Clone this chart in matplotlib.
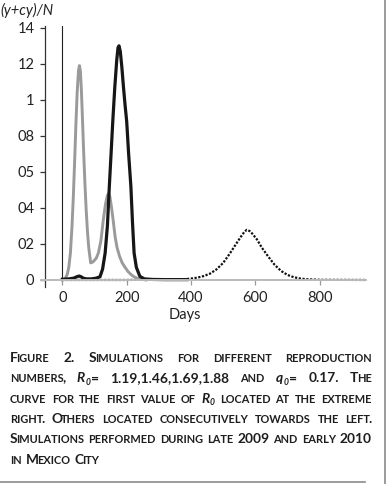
import matplotlib
matplotlib.use('Agg')
import matplotlib.pyplot as plt
from matplotlib.lines import Line2D

# values: days vs (y+cy)/N
gray_days = [0, 8, 15, 20, 25, 30, 34, 38, 42, 46, 50, 53, 56, 59, 62, 66, 70,
             74, 78, 82, 88, 95, 105, 112, 120, 127, 134, 140, 144, 148, 153,
             158, 164, 170, 178, 186, 195, 205, 215, 225, 240, 260]
gray_vals = [0.0, 0.005, 0.03, 0.07, 0.15, 0.3, 0.46, 0.65, 0.86, 1.04, 1.16,
             1.19, 1.16, 1.06, 0.92, 0.72, 0.54, 0.39, 0.27, 0.18, 0.095, 0.1,
             0.12, 0.15, 0.22, 0.33, 0.42, 0.47, 0.48, 0.46, 0.4, 0.33, 0.24,
             0.18, 0.13, 0.095, 0.07, 0.045, 0.028, 0.015, 0.005, 0.0]

black_days = [0, 20, 35, 45, 52, 58, 65, 75, 90, 105, 117, 125, 133, 140, 146,
              152, 157, 163, 169, 173, 176, 180, 185, 190, 195, 200, 206, 213,
              218, 223, 230, 241, 255, 280, 320, 388]
black_vals = [0.004, 0.006, 0.01, 0.018, 0.022, 0.018, 0.01, 0.006, 0.006,
              0.01, 0.018, 0.06, 0.15, 0.3, 0.52, 0.72, 0.89, 1.07, 1.22, 1.29,
              1.3, 1.27, 1.18, 1.07, 0.97, 0.88, 0.7, 0.52, 0.32, 0.15, 0.07,
              0.02, 0.006, 0.003, 0.002, 0.002]

dotted_days = [0, 200, 380, 400, 420, 440, 460, 480, 500, 520, 540, 555, 565,
               573, 582, 590, 605, 620, 640, 660, 680, 700, 720, 740, 760, 800,
               945]
dotted_vals = [0.0, 0.0, 0.004, 0.008, 0.013, 0.022, 0.036, 0.06, 0.095,
               0.145, 0.2, 0.24, 0.265, 0.278, 0.272, 0.258, 0.225, 0.18, 0.13,
               0.084, 0.05, 0.028, 0.015, 0.008, 0.004, 0.001, 0.0]

x_ticks = [0, 200, 400, 600, 800]
y_ticks = [0, 0.2, 0.4, 0.6, 0.8, 1.0, 1.2, 1.4]
y_tick_labels = ['0', '02', '04', '05', '08', '1', '12', '14']

caption_lines = [
    'Figure 2. Simulations for different reproduction',
    'numbers, R_0= 1.19,1.46,1.69,1.88 and q_0= 0.17. The',
    'curve for the first value of R_0 located at the extreme',
    'right. Others located consecutively towards the left.',
    'Simulations performed during late 2009 and early 2010',
    'in Mexico City',
]

plt.rcParams['font.family'] = ['Lato', 'DejaVu Sans']

W, H = 386, 484
fig = plt.figure(figsize=(W / 100, H / 100), dpi=100)
ax = fig.add_axes([45 / W, 1 - 287 / H, 321 / W, 261 / H])
ax.set_xlim(-54, 944)
ax.set_ylim(-0.039, 1.41)

# axes styling
for s in ['top', 'right']:
    ax.spines[s].set_visible(False)
ax.spines['left'].set_color('#333333')
ax.spines['left'].set_linewidth(0.9)
ax.spines['bottom'].set_position(('data', 0))
ax.spines['bottom'].set_color('#bbbbbb')
ax.spines['bottom'].set_linewidth(1.4)
ax.plot([-70, -54], [0, 0], color='#bbbbbb', lw=1.4, clip_on=False,
        solid_capstyle='butt')
ax.axvline(0, ymin=0.039 / 1.449, ymax=1, color='#222222', lw=0.8)

ax.set_xticks(x_ticks)
ax.set_yticks(y_ticks)
ax.set_yticklabels(y_tick_labels)
ax.tick_params(axis='x', direction='out', length=3.6, width=0.9,
               color='#999999', labelsize=10.5, pad=4, labelcolor='#222222')
ax.tick_params(axis='y', direction='out', length=3.6, width=0.9,
               color='#333333', labelsize=10.5, pad=4, labelcolor='#222222')

# curves
ax.plot(dotted_days, dotted_vals, color='#111111', lw=1.6,
        linestyle=(0, (1, 0.7)), dash_capstyle='butt')
ax.plot(gray_days, gray_vals, color='#9a9a9a', lw=2.1)
ax.plot(black_days, black_vals, color='#161616', lw=2.3)

fig.text(27 / W, 1 - 10 / H, '(y+cy)/N', style='italic', ha='center',
         va='center', fontsize=10.5, color='#222222')
fig.text(185 / W, 1 - 315 / H, 'Days', ha='center', va='center',
         fontsize=10.5, color='#222222')

# frame lines of the page
fig.add_artist(Line2D([384.5 / W] * 2, [0, 1], color='#8a8a8a', lw=1.2))
fig.add_artist(Line2D([0, 365 / W], [1 - 481.5 / H] * 2, color='#8a8a8a',
                      lw=1.2))

# caption in bold small caps, justified
renderer = fig.canvas.get_renderer()
left, right = 10, 372
base0, step = 362, 20.3
kern = -0.12
min_gap = 4.0


def word_runs(word, big, small):
    runs = []
    if '_' in word:
        i = word.index('_')
        runs.append([word[:i], big, 'italic', 0])
        runs.append([word[i + 1], big * 0.62, 'italic', -2.5])
        word = word[i + 2:]
    for ch in word:
        if ch.islower():
            t, size = ch.upper(), small
        else:
            t, size = ch, big
        if runs and runs[-1][1] == size and runs[-1][2] == 'normal':
            runs[-1][0] += t
        else:
            runs.append([t, size, 'normal', 0])
    return runs


def build(big, small):
    lines = []
    for line in caption_lines:
        words = []
        for w in line.split(' '):
            arts = []
            prev_it = False
            for t, size, style, dy in word_runs(w, big, small):
                a = fig.text(0, 0, t, fontsize=size, style=style,
                             fontweight='bold', color='#1e1e1e',
                             va='baseline')
                em = size * 100 / 72
                k = 0.04 * em if prev_it else kern * em
                if not arts:
                    k = 0
                arts.append((a, dy, a.get_window_extent(renderer).width, k))
                prev_it = style == 'italic'
            wid = sum(r[2] + r[3] for r in arts)
            words.append((arts, wid))
        lines.append(words)
    return lines


big, small = 11.2, 8.9
lines = build(big, small)
fit = 1.0
for words in lines[:-1]:
    total = sum(w[1] for w in words)
    fit = min(fit, (right - left - (len(words) - 1) * min_gap) / total)
if fit < 1.0:
    for words in lines:
        for arts, wid in words:
            for r in arts:
                r[0].remove()
    lines = build(big * fit, small * fit)

for n, words in enumerate(lines):
    yb = base0 + n * step
    total = sum(w[1] for w in words)
    if n < len(lines) - 1:
        gap = (right - left - total) / (len(words) - 1)
    else:
        gap = min_gap
    x = left
    for arts, wid in words:
        xx = x
        for a, dy, aw, k in arts:
            xx += k
            a.set_position((xx / W, 1 - (yb - dy) / H))
            xx += aw
        x += wid + gap

fig.savefig('out.png', dpi=100)
